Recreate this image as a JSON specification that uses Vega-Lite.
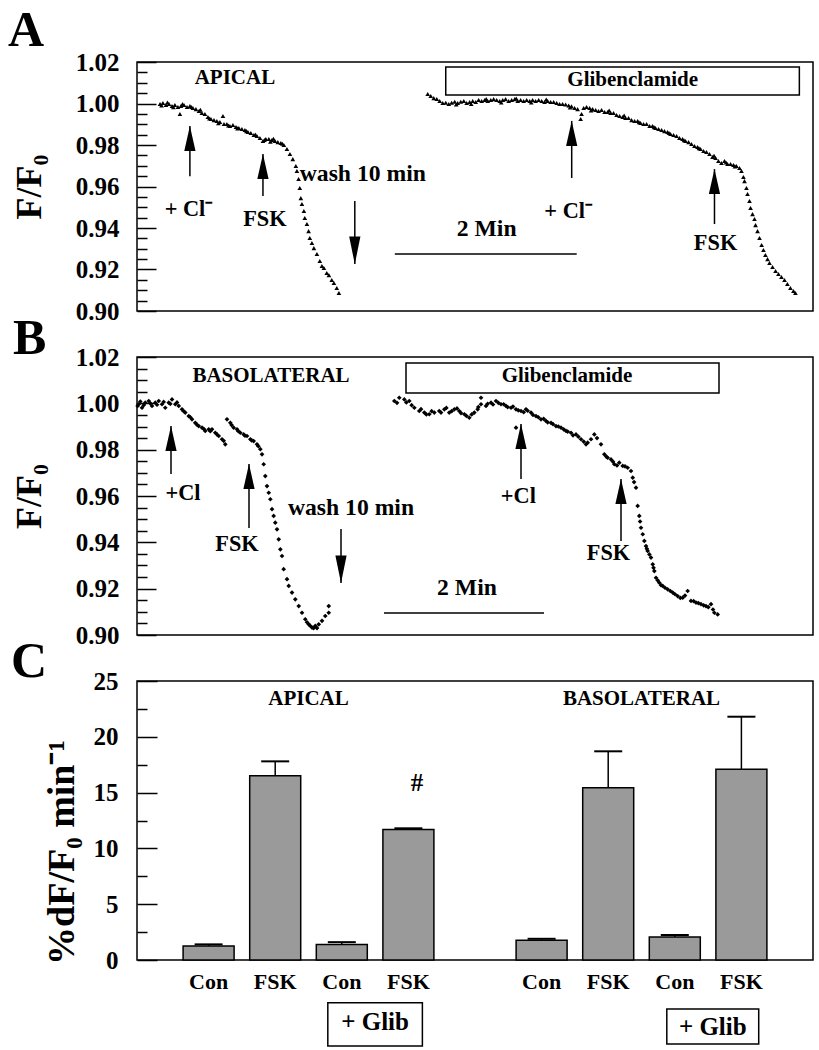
{
  "$schema": "https://vega.github.io/schema/vega-lite/v6.json",
  "padding": {"left": 7, "top": 5, "right": 5, "bottom": 5},
  "bounds": "flush",
  "spacing": 46,
  "config": {
    "font": "Liberation Serif",
    "view": {"stroke": "black", "strokeWidth": 1.5},
    "axis": {"labelFont": "Liberation Serif", "labelFontWeight": "bold", "labelColor": "black", "titleFont": "Liberation Serif", "titleFontWeight": "bold", "titleColor": "black", "domain": false, "grid": false, "tickColor": "black", "tickWidth": 1.5, "labelFlush": false, "labelOverlap": false, "labelBound": false},
    "title": {"font": "Liberation Serif", "fontWeight": "bold", "color": "black", "anchor": "start", "frame": "group"},
    "text": {"font": "Liberation Serif", "fontWeight": "bold", "color": "black"}
  },
  "datasets": {
    "traceA": [
      {"t":15.2,"f":0.9998},{"t":17.1,"f":1.0002},{"t":19.1,"f":0.9993},{"t":21.1,"f":0.9998},{"t":23.1,"f":0.9988},{"t":25.0,"f":0.9993},{"t":27.0,"f":0.9983},{"t":29.0,"f":0.9988},{"t":31.0,"f":0.9993},{"t":33.0,"f":0.9983},{"t":28.3,"f":0.9949},{"t":34.9,"f":0.9988},{"t":36.9,"f":0.9978},{"t":38.9,"f":0.9973},{"t":40.9,"f":0.9964},{"t":42.8,"f":0.9954},{"t":44.8,"f":0.9949},{"t":46.8,"f":0.9935},{"t":48.8,"f":0.9925},{"t":50.8,"f":0.9920},{"t":52.7,"f":0.9916},{"t":54.7,"f":0.9911},{"t":56.7,"f":0.9940},{"t":57.4,"f":0.9901},{"t":59.3,"f":0.9901},{"t":61.3,"f":0.9892},{"t":63.3,"f":0.9896},{"t":65.3,"f":0.9887},{"t":67.2,"f":0.9882},{"t":69.2,"f":0.9877},{"t":71.2,"f":0.9872},{"t":73.2,"f":0.9863},{"t":75.1,"f":0.9858},{"t":77.1,"f":0.9848},{"t":79.1,"f":0.9843},{"t":81.1,"f":0.9834},{"t":83.1,"f":0.9819},{"t":85.0,"f":0.9829},{"t":87.0,"f":0.9829},{"t":89.0,"f":0.9824},{"t":91.0,"f":0.9819},{"t":92.9,"f":0.9814},{"t":94.9,"f":0.9810},{"t":96.9,"f":0.9800},{"t":98.9,"f":0.9781},{"t":100.9,"f":0.9757},{"t":102.8,"f":0.9732},{"t":104.8,"f":0.9699},{"t":105.5,"f":0.9675},{"t":106.6,"f":0.9636},{"t":107.4,"f":0.9593},{"t":108.1,"f":0.9544},{"t":108.8,"f":0.9516},{"t":110.1,"f":0.9482},{"t":110.7,"f":0.9448},{"t":112.1,"f":0.9419},{"t":113.2,"f":0.9385},{"t":114.0,"f":0.9352},{"t":115.4,"f":0.9328},{"t":116.7,"f":0.9303},{"t":118.7,"f":0.9275},{"t":120.6,"f":0.9241},{"t":122.0,"f":0.9217},{"t":123.3,"f":0.9207},{"t":125.2,"f":0.9183},{"t":126.6,"f":0.9173},{"t":128.5,"f":0.9149},{"t":129.9,"f":0.9135},{"t":131.8,"f":0.9111},{"t":133.2,"f":0.9087},
      {"t":16.2,"f":0.9990},{"t":20.1,"f":1.0005},{"t":24.0,"f":0.9982},{"t":30.0,"f":0.9997},{"t":35.9,"f":0.9983},{"t":41.8,"f":0.9970},{"t":47.8,"f":0.9928},{"t":53.7,"f":0.9905},{"t":60.3,"f":0.9894},{"t":66.3,"f":0.9880},{"t":72.2,"f":0.9867},{"t":78.1,"f":0.9850},{"t":84.1,"f":0.9824},{"t":90.0,"f":0.9830},{"t":95.9,"f":0.9806},{"t":88.0,"f":0.9816},
      {"t":191.8,"f":1.0046},{"t":193.8,"f":1.0036},{"t":195.8,"f":1.0026},{"t":197.8,"f":1.0022},{"t":199.7,"f":1.0012},{"t":201.7,"f":1.0002},{"t":203.7,"f":1.0004},{"t":205.7,"f":0.9998},{"t":207.6,"f":1.0004},{"t":209.6,"f":1.0008},{"t":211.6,"f":1.0002},{"t":213.6,"f":1.0008},{"t":215.6,"f":1.0012},{"t":217.5,"f":1.0002},{"t":219.5,"f":1.0007},{"t":221.5,"f":1.0012},{"t":223.5,"f":1.0007},{"t":225.4,"f":1.0017},{"t":227.4,"f":1.0012},{"t":229.4,"f":1.0017},{"t":231.4,"f":1.0012},{"t":233.4,"f":1.0017},{"t":235.3,"f":1.0021},{"t":237.3,"f":1.0017},{"t":239.3,"f":1.0012},{"t":241.3,"f":1.0017},{"t":243.2,"f":1.0021},{"t":245.2,"f":1.0012},{"t":247.2,"f":1.0017},{"t":249.2,"f":1.0021},{"t":251.2,"f":1.0012},{"t":253.1,"f":1.0017},{"t":255.1,"f":1.0012},{"t":257.1,"f":1.0017},{"t":259.1,"f":1.0012},{"t":261.0,"f":1.0017},{"t":263.0,"f":1.0012},{"t":265.0,"f":1.0017},{"t":267.0,"f":1.0012},{"t":268.9,"f":1.0007},{"t":270.9,"f":1.0012},{"t":272.9,"f":1.0007},{"t":274.9,"f":1.0007},{"t":276.9,"f":1.0002},{"t":278.8,"f":0.9998},{"t":280.8,"f":0.9998},{"t":282.8,"f":0.9995},{"t":284.8,"f":0.9990},{"t":286.7,"f":0.9986},{"t":288.7,"f":0.9978},{"t":290.7,"f":0.9973},{"t":292.7,"f":0.9925},{"t":293.3,"f":0.9949},{"t":294.7,"f":0.9978},{"t":296.6,"f":0.9983},{"t":298.6,"f":0.9978},{"t":300.6,"f":0.9973},{"t":302.6,"f":0.9969},{"t":304.5,"f":0.9964},{"t":306.5,"f":0.9969},{"t":308.5,"f":0.9959},{"t":310.5,"f":0.9959},{"t":312.5,"f":0.9954},{"t":314.4,"f":0.9954},{"t":316.4,"f":0.9945},{"t":318.4,"f":0.9940},{"t":320.4,"f":0.9935},{"t":322.3,"f":0.9930},{"t":324.3,"f":0.9930},{"t":326.3,"f":0.9920},{"t":328.3,"f":0.9916},{"t":330.3,"f":0.9916},{"t":332.2,"f":0.9906},{"t":334.2,"f":0.9901},{"t":336.2,"f":0.9901},{"t":338.2,"f":0.9892},{"t":340.1,"f":0.9892},{"t":342.1,"f":0.9882},{"t":344.1,"f":0.9877},{"t":346.1,"f":0.9872},{"t":348.0,"f":0.9867},{"t":350.0,"f":0.9863},{"t":352.0,"f":0.9853},{"t":354.0,"f":0.9848},{"t":356.0,"f":0.9843},{"t":357.9,"f":0.9834},{"t":359.9,"f":0.9829},{"t":361.9,"f":0.9819},{"t":363.9,"f":0.9814},{"t":365.8,"f":0.9805},{"t":367.8,"f":0.9795},{"t":369.8,"f":0.9790},{"t":371.8,"f":0.9781},{"t":373.8,"f":0.9771},{"t":375.7,"f":0.9766},{"t":377.7,"f":0.9757},{"t":379.7,"f":0.9742},{"t":381.7,"f":0.9737},{"t":383.6,"f":0.9723},{"t":385.6,"f":0.9713},{"t":387.6,"f":0.9723},{"t":389.6,"f":0.9708},{"t":391.6,"f":0.9708},{"t":393.5,"f":0.9704},{"t":395.5,"f":0.9699},{"t":397.5,"f":0.9689},{"t":398.8,"f":0.9675},{"t":400.1,"f":0.9646},{"t":400.8,"f":0.9626},{"t":402.1,"f":0.9593},{"t":402.8,"f":0.9564},{"t":404.1,"f":0.9530},{"t":404.8,"f":0.9496},{"t":406.1,"f":0.9467},{"t":407.4,"f":0.9443},{"t":408.1,"f":0.9414},{"t":409.4,"f":0.9385},{"t":410.7,"f":0.9352},{"t":412.1,"f":0.9318},{"t":413.3,"f":0.9294},{"t":414.6,"f":0.9270},{"t":416.0,"f":0.9250},{"t":417.3,"f":0.9231},{"t":419.3,"f":0.9212},{"t":421.3,"f":0.9193},{"t":423.2,"f":0.9178},{"t":425.2,"f":0.9164},{"t":427.2,"f":0.9149},{"t":429.1,"f":0.9130},{"t":431.1,"f":0.9111},{"t":433.1,"f":0.9096},{"t":434.4,"f":0.9087},
      {"t":210.6,"f":0.9995},{"t":220.5,"f":0.9998},{"t":230.4,"f":1.0022},{"t":240.3,"f":1.0005},{"t":250.2,"f":1.0024},{"t":260.1,"f":1.0005},{"t":270.0,"f":1.0019},{"t":285.7,"f":0.9981},{"t":299.6,"f":0.9967},{"t":311.5,"f":0.9966},{"t":321.4,"f":0.9942},{"t":331.2,"f":0.9910},{"t":341.1,"f":0.9886},{"t":351.0,"f":0.9858},{"t":360.9,"f":0.9823},{"t":370.8,"f":0.9784},{"t":380.7,"f":0.9748},{"t":388.6,"f":0.9716},{"t":394.5,"f":0.9697}
    ],
    "traceB": [
      {"t":0.5,"f":0.9989},{"t":1.3,"f":0.9996},{"t":3.75,"f":0.9981},{"t":6.2,"f":1.0003},{"t":8.8,"f":1.0010},{"t":11.25,"f":0.9989},{"t":13.7,"f":1.0003},{"t":16.3,"f":1.0010},{"t":18.75,"f":0.9996},{"t":21.2,"f":0.9981},{"t":23.8,"f":1.0003},{"t":26.25,"f":1.0017},{"t":28.7,"f":0.9996},{"t":31.3,"f":0.9989},{"t":33.75,"f":0.9974},{"t":36.2,"f":0.9960},{"t":38.8,"f":0.9945},{"t":41.25,"f":0.9931},{"t":43.7,"f":0.9916},{"t":46.3,"f":0.9902},{"t":48.75,"f":0.9895},{"t":51.2,"f":0.9881},{"t":53.8,"f":0.9888},{"t":56.25,"f":0.9888},{"t":58.7,"f":0.9873},{"t":61.3,"f":0.9859},{"t":63.75,"f":0.9845},{"t":66.2,"f":0.9823},{"t":67.5,"f":0.9931},{"t":70.0,"f":0.9916},{"t":72.5,"f":0.9895},{"t":75.0,"f":0.9888},{"t":77.5,"f":0.9873},{"t":80.0,"f":0.9866},{"t":82.5,"f":0.9859},{"t":85.0,"f":0.9845},{"t":87.5,"f":0.9837},{"t":90.0,"f":0.9823},{"t":92.5,"f":0.9802},{"t":93.75,"f":0.9780},{"t":95.0,"f":0.9737},{"t":96.2,"f":0.9686},{"t":97.5,"f":0.9643},{"t":98.8,"f":0.9614},{"t":100.0,"f":0.9586},{"t":101.25,"f":0.9543},{"t":102.5,"f":0.9514},{"t":103.7,"f":0.9485},{"t":105.0,"f":0.9456},{"t":106.3,"f":0.9413},{"t":107.5,"f":0.9370},{"t":108.75,"f":0.9341},{"t":110.0,"f":0.9284},{"t":112.5,"f":0.9241},{"t":113.8,"f":0.9212},{"t":116.25,"f":0.9183},{"t":118.7,"f":0.9154},{"t":121.3,"f":0.9125},{"t":123.75,"f":0.9096},{"t":126.2,"f":0.9068},{"t":128.8,"f":0.9046},{"t":131.25,"f":0.9032},{"t":133.7,"f":0.9039},{"t":136.3,"f":0.9046},{"t":138.75,"f":0.9061},{"t":141.2,"f":0.9082},{"t":143.8,"f":0.9125},{"t":143.8,"f":0.9096},
      {"t":2.5,"f":1.0008},{"t":5,"f":0.9992},{"t":10,"f":1.0000},{"t":15,"f":0.9994},{"t":20,"f":1.0006},{"t":25,"f":0.9998},{"t":30,"f":1.0004},{"t":35,"f":0.9966},{"t":40,"f":0.9940},{"t":45,"f":0.9908},{"t":50,"f":0.9890},{"t":55,"f":0.9880},{"t":60,"f":0.9866},{"t":65,"f":0.9838},{"t":71,"f":0.9906},{"t":76,"f":0.9880},{"t":81,"f":0.9860},{"t":86,"f":0.9840},{"t":91,"f":0.9815},{"t":129.9,"f":0.9040},{"t":135,"f":0.9030},{"t":127.5,"f":0.9055},{"t":132.5,"f":0.9030},
      {"t":193.0,"f":1.0010},{"t":196.7,"f":1.0024},{"t":200.5,"f":1.0017},{"t":204.2,"f":1.0010},{"t":208.0,"f":0.9981},{"t":211.7,"f":0.9967},{"t":215.5,"f":0.9960},{"t":219.2,"f":0.9953},{"t":223.0,"f":0.9960},{"t":226.7,"f":0.9967},{"t":230.5,"f":0.9974},{"t":234.2,"f":0.9960},{"t":238.0,"f":0.9974},{"t":241.7,"f":0.9967},{"t":245.5,"f":0.9953},{"t":249.2,"f":0.9938},{"t":253.0,"f":0.9960},{"t":255.5,"f":0.9974},{"t":258.0,"f":0.9996},{"t":258.0,"f":1.0024},{"t":261.75,"f":0.9989},{"t":265.5,"f":1.0003},{"t":269.25,"f":1.0010},{"t":273.0,"f":0.9996},{"t":276.75,"f":0.9989},{"t":280.5,"f":0.9981},{"t":284.25,"f":0.9974},{"t":284.25,"f":0.9895},{"t":288.0,"f":0.9967},{"t":291.75,"f":0.9974},{"t":295.5,"f":0.9960},{"t":299.25,"f":0.9945},{"t":303.0,"f":0.9931},{"t":306.75,"f":0.9924},{"t":310.5,"f":0.9916},{"t":314.25,"f":0.9902},{"t":318.0,"f":0.9895},{"t":321.75,"f":0.9881},{"t":325.5,"f":0.9873},{"t":329.25,"f":0.9866},{"t":333.0,"f":0.9845},{"t":336.75,"f":0.9823},{"t":340.5,"f":0.9845},{"t":343.0,"f":0.9866},{"t":348.0,"f":0.9823},{"t":350.5,"f":0.9780},{"t":353.0,"f":0.9765},{"t":355.5,"f":0.9758},{"t":358.0,"f":0.9737},{"t":361.7,"f":0.9744},{"t":364.3,"f":0.9730},{"t":368.0,"f":0.9722},{"t":370.5,"f":0.9708},{"t":371.8,"f":0.9679},{"t":374.25,"f":0.9636},{"t":375.5,"f":0.9557},{"t":376.7,"f":0.9514},{"t":378.0,"f":0.9463},{"t":379.3,"f":0.9435},{"t":380.5,"f":0.9406},{"t":381.75,"f":0.9384},{"t":383.0,"f":0.9363},{"t":385.5,"f":0.9334},{"t":386.8,"f":0.9305},{"t":388.0,"f":0.9276},{"t":389.25,"f":0.9247},{"t":391.7,"f":0.9226},{"t":394.3,"f":0.9212},{"t":398.0,"f":0.9197},{"t":401.8,"f":0.9183},{"t":405.5,"f":0.9168},{"t":409.3,"f":0.9161},{"t":413.0,"f":0.9190},{"t":415.5,"f":0.9147},{"t":419.25,"f":0.9140},{"t":423.0,"f":0.9133},{"t":426.75,"f":0.9125},{"t":430.5,"f":0.9133},{"t":433.0,"f":0.9096},{"t":435.5,"f":0.9089},
      {"t":195,"f":1.0002},{"t":202,"f":1.0004},{"t":206,"f":0.9992},{"t":213,"f":0.9975},{"t":217,"f":0.9952},{"t":221,"f":0.9966},{"t":228,"f":0.9960},{"t":232,"f":0.9980},{"t":236,"f":0.9966},{"t":240,"f":0.9978},{"t":243,"f":0.9958},{"t":247,"f":0.9946},{"t":251,"f":0.9952},{"t":256,"f":0.9984},{"t":263,"f":0.9998},{"t":267,"f":0.9995},{"t":271,"f":1.0002},{"t":275,"f":0.9996},{"t":278,"f":0.9984},{"t":282,"f":0.9986},{"t":286,"f":0.9970},{"t":290,"f":0.9962},{"t":293,"f":0.9968},{"t":297,"f":0.9950},{"t":301,"f":0.9940},{"t":305,"f":0.9933},{"t":308,"f":0.9918},{"t":312,"f":0.9910},{"t":316,"f":0.9900},{"t":320,"f":0.9888},{"t":323,"f":0.9878},{"t":327,"f":0.9862},{"t":331,"f":0.9856},{"t":335,"f":0.9835},{"t":338,"f":0.9830},{"t":345,"f":0.9850},{"t":352,"f":0.9770},{"t":357,"f":0.9748},{"t":360,"f":0.9732},{"t":366,"f":0.9728},{"t":372.8,"f":0.9660},{"t":377.3,"f":0.9490},{"t":382.4,"f":0.9372},{"t":384.3,"f":0.9348},{"t":387.4,"f":0.9290},{"t":390.5,"f":0.9236},{"t":393,"f":0.9215},{"t":396,"f":0.9204},{"t":400,"f":0.9190},{"t":403.5,"f":0.9176},{"t":407.5,"f":0.9160},{"t":411,"f":0.9170},{"t":417.5,"f":0.9146},{"t":421,"f":0.9138},{"t":425,"f":0.9128},{"t":428.5,"f":0.9120},{"t":432,"f":0.9110}
    ],
    "notesA": [
      {"t":64.6,"f":1.0123,"text":"APICAL","kind":"label"},
      {"t":327,"f":1.0111,"text":"Glibenclamide","kind":"label"},
      {"t":34.3,"f":0.9491,"text":"+ Cl⁻","kind":"event"},
      {"t":84.4,"f":0.9443,"text":"FSK","kind":"event"},
      {"t":149,"f":0.966,"text":"wash 10 min","kind":"note"},
      {"t":230.7,"f":0.9395,"text":"2 Min","kind":"note"},
      {"t":284.8,"f":0.9482,"text":"+ Cl⁻","kind":"event"},
      {"t":381.7,"f":0.9328,"text":"FSK","kind":"event"}
    ],
    "notesB": [
      {"t":100.5,"f":1.0118,"text":"BASOLATERAL","kind":"label"},
      {"t":322.5,"f":1.0118,"text":"Glibenclamide","kind":"label"},
      {"t":34.5,"f":0.9613,"text":"+Cl","kind":"event"},
      {"t":75,"f":0.9393,"text":"FSK","kind":"event"},
      {"t":160.5,"f":0.9548,"text":"wash 10 min","kind":"note"},
      {"t":247.5,"f":0.9203,"text":"2 Min","kind":"note"},
      {"t":286,"f":0.96,"text":"+Cl","kind":"event"},
      {"t":353.6,"f":0.9354,"text":"FSK","kind":"event"}
    ],
    "arrowsA": [
      {"t":34.9,"f":0.9650,"f2":0.9891,"dir":"up"},
      {"t":83.1,"f":0.9554,"f2":0.9757,"dir":"up"},
      {"t":143.7,"f":0.9530,"f2":0.9226,"dir":"down"},
      {"t":286.8,"f":0.9641,"f2":0.9916,"dir":"up"},
      {"t":381.0,"f":0.9419,"f2":0.9684,"dir":"up"}
    ],
    "arrowsB": [
      {"t":25.5,"f":0.9695,"f2":0.9902,"dir":"up"},
      {"t":84,"f":0.9462,"f2":0.9738,"dir":"up"},
      {"t":153,"f":0.9458,"f2":0.9225,"dir":"down"},
      {"t":288,"f":0.9673,"f2":0.9911,"dir":"up"},
      {"t":363,"f":0.9406,"f2":0.9673,"dir":"up"}
    ],
    "scaleA": [{"t":170.1,"t2":290.1,"f":0.9275}],
    "scaleB": [{"t":185.25,"t2":305.25,"f":0.9095}],
    "glibA": [{"t":203.7,"t2":437.0,"f":1.0041,"f2":1.0176}],
    "glibB": [{"t":201.75,"t2":436.5,"f":1.0045,"f2":1.0174}],
    "barsC": [
      {"slot":1,"side":"APICAL","glib":false,"treatment":"Con","v":1.25,"hi":1.4},
      {"slot":2,"side":"APICAL","glib":false,"treatment":"FSK","v":16.5,"hi":17.8},
      {"slot":3,"side":"APICAL","glib":true,"treatment":"Con","v":1.4,"hi":1.6},
      {"slot":4,"side":"APICAL","glib":true,"treatment":"FSK","v":11.7,"hi":11.8},
      {"slot":6,"side":"BASOLATERAL","glib":false,"treatment":"Con","v":1.76,"hi":1.9},
      {"slot":7,"side":"BASOLATERAL","glib":false,"treatment":"FSK","v":15.44,"hi":18.7},
      {"slot":8,"side":"BASOLATERAL","glib":true,"treatment":"Con","v":2.06,"hi":2.24},
      {"slot":9,"side":"BASOLATERAL","glib":true,"treatment":"FSK","v":17.1,"hi":21.8}
    ],
    "notesC": [
      {"slot":2.5,"v":23.4,"text":"APICAL","kind":"label"},
      {"slot":7.5,"v":23.4,"text":"BASOLATERAL","kind":"label"},
      {"slot":4.13,"v":15.9,"text":"#","kind":"mark"},
      {"slot":3.5,"v":-5.6,"text":"+ Glib","kind":"mark"},
      {"slot":8.57,"v":-6.0,"text":"+ Glib","kind":"mark"}
    ],
    "boxesC": [
      {"slot":2.79,"slot2":4.21,"v":-3.83,"v2":-7.7},
      {"slot":7.88,"slot2":9.26,"v":-4.39,"v2":-7.53}
    ]
  },
  "vconcat": [
    {
      "width": 676,
      "height": 249,
      "title": {"text": "A", "fontSize": 50, "dx": -129, "offset": -6},
      "resolve": {"axis": {"y": "independent"}},
      "encoding": {
        "x": {"field": "t", "type": "quantitative", "scale": {"domain": [0, 446], "nice": false, "zero": false}, "axis": null},
        "y": {"field": "f", "type": "quantitative", "scale": {"domain": [0.9, 1.02], "nice": false, "zero": false}, "axis": null}
      },
      "layer": [
        {"data": {"name": "traceA"}, "mark": {"type": "point", "shape": "triangle-up", "filled": true, "size": 22, "color": "black", "opacity": 1},
          "encoding": {"y": {"field": "f", "type": "quantitative", "scale": {"domain": [0.9, 1.02], "nice": false, "zero": false},
            "axis": {"orient": "left", "values": [0.9,0.92,0.94,0.96,0.98,1.0,1.02], "format": ".2f", "tickSize": -19, "labelPadding": 37, "labelFontSize": 25, "title": "F/F₀", "titleFontSize": 36, "titlePadding": 27}}}},
        {"data": {"name": "glibA"}, "mark": {"type": "rect", "fillOpacity": 0, "stroke": "black", "strokeWidth": 1.5},
          "encoding": {"x2": {"field": "t2"}, "y2": {"field": "f2"},
            "y": {"field": "f", "type": "quantitative", "scale": {"domain": [0.9, 1.02], "nice": false, "zero": false},
              "axis": {"orient": "left", "values": [0.905,0.91,0.915,0.925,0.93,0.935,0.945,0.95,0.955,0.965,0.97,0.975,0.985,0.99,0.995,1.005,1.01,1.015], "tickSize": -10, "labels": false, "title": null}}}},
        {"data": {"name": "scaleA"}, "mark": {"type": "rule", "strokeWidth": 1.5, "color": "black"}, "encoding": {"x2": {"field": "t2"}}},
        {"data": {"name": "arrowsA"}, "mark": {"type": "rule", "strokeWidth": 1.5, "color": "black"}, "encoding": {"y2": {"field": "f2"}}},
        {"data": {"name": "arrowsA"}, "mark": {"type": "point", "filled": true, "opacity": 1, "color": "black", "size": 625},
          "encoding": {"y": {"field": "f2", "type": "quantitative", "scale": {"domain": [0.9, 1.02], "nice": false, "zero": false}, "axis": null},
            "shape": {"field": "dir", "type": "nominal", "scale": {"domain": ["up", "down"], "range": ["M0,0L0.45,2L-0.45,2Z", "M0,0L0.45,-2.2L-0.45,-2.2Z"]}, "legend": null}}},
        {"data": {"name": "notesA"}, "mark": {"type": "text", "align": "center", "baseline": "middle"},
          "encoding": {"text": {"field": "text"}, "size": {"field": "kind", "type": "nominal", "scale": {"domain": ["label", "event", "note"], "range": [21, 25, 19]}, "legend": null}}}
      ]
    },
    {
      "width": 676,
      "height": 278,
      "title": {"text": "B", "fontSize": 50, "dx": -124, "offset": -19},
      "resolve": {"axis": {"y": "independent"}},
      "encoding": {
        "x": {"field": "t", "type": "quantitative", "scale": {"domain": [0, 507], "nice": false, "zero": false}, "axis": null},
        "y": {"field": "f", "type": "quantitative", "scale": {"domain": [0.9, 1.02], "nice": false, "zero": false}, "axis": null}
      },
      "layer": [
        {"data": {"name": "traceB"}, "mark": {"type": "point", "shape": "diamond", "filled": true, "size": 22, "color": "black", "opacity": 1},
          "encoding": {"y": {"field": "f", "type": "quantitative", "scale": {"domain": [0.9, 1.02], "nice": false, "zero": false},
            "axis": {"orient": "left", "values": [0.9,0.92,0.94,0.96,0.98,1.0,1.02], "format": ".2f", "tickSize": -19, "labelPadding": 37, "labelFontSize": 25, "title": "F/F₀", "titleFontSize": 36, "titlePadding": 27}}}},
        {"data": {"name": "glibB"}, "mark": {"type": "rect", "fillOpacity": 0, "stroke": "black", "strokeWidth": 1.5},
          "encoding": {"x2": {"field": "t2"}, "y2": {"field": "f2"},
            "y": {"field": "f", "type": "quantitative", "scale": {"domain": [0.9, 1.02], "nice": false, "zero": false},
              "axis": {"orient": "left", "values": [0.905,0.91,0.915,0.925,0.93,0.935,0.945,0.95,0.955,0.965,0.97,0.975,0.985,0.99,0.995,1.005,1.01,1.015], "tickSize": -10, "labels": false, "title": null}}}},
        {"data": {"name": "scaleB"}, "mark": {"type": "rule", "strokeWidth": 1.5, "color": "black"}, "encoding": {"x2": {"field": "t2"}}},
        {"data": {"name": "arrowsB"}, "mark": {"type": "rule", "strokeWidth": 1.5, "color": "black"}, "encoding": {"y2": {"field": "f2"}}},
        {"data": {"name": "arrowsB"}, "mark": {"type": "point", "filled": true, "opacity": 1, "color": "black", "size": 625},
          "encoding": {"y": {"field": "f2", "type": "quantitative", "scale": {"domain": [0.9, 1.02], "nice": false, "zero": false}, "axis": null},
            "shape": {"field": "dir", "type": "nominal", "scale": {"domain": ["up", "down"], "range": ["M0,0L0.5,2L-0.5,2Z", "M0,0L0.45,-2.2L-0.45,-2.2Z"]}, "legend": null}}},
        {"data": {"name": "notesB"}, "mark": {"type": "text", "align": "center", "baseline": "middle"},
          "encoding": {"text": {"field": "text"}, "size": {"field": "kind", "type": "nominal", "scale": {"domain": ["label", "event", "note"], "range": [21, 25, 19]}, "legend": null}}}
      ]
    },
    {
      "width": 676,
      "height": 279,
      "title": {"text": "C", "fontSize": 50, "dx": -126, "offset": -18},
      "resolve": {"axis": {"y": "independent"}},
      "encoding": {
        "x": {"field": "slot", "type": "quantitative", "scale": {"domain": [0, 10], "nice": false, "zero": false}, "axis": null},
        "y": {"field": "v", "type": "quantitative", "scale": {"domain": [0, 25], "nice": false, "zero": false}, "axis": null}
      },
      "layer": [
        {"data": {"name": "barsC"}, "mark": {"type": "bar", "orient": "vertical", "width": 51, "fill": "#9a9a9a", "stroke": "black", "strokeWidth": 1.5},
          "encoding": {"y": {"field": "v", "type": "quantitative", "scale": {"domain": [0, 25], "nice": false, "zero": false},
            "axis": {"orient": "left", "values": [0,5,10,15,20,25], "tickSize": -20, "labelPadding": 39, "labelFontSize": 25, "title": "%dF/F₀ min⁻¹", "titleFontSize": 38, "titlePadding": 12, "titleY": 171}}}},
        {"data": {"name": "barsC"}, "mark": {"type": "rule", "strokeWidth": 1.5, "color": "black"},
          "encoding": {"y2": {"field": "hi"},
            "y": {"field": "v", "type": "quantitative", "scale": {"domain": [0, 25], "nice": false, "zero": false},
              "axis": {"orient": "left", "values": [2.5,7.5,12.5,17.5,22.5], "tickSize": -10, "labels": false, "title": null}}}},
        {"data": {"name": "barsC"}, "mark": {"type": "tick", "orient": "horizontal", "size": 28, "thickness": 2, "color": "black", "opacity": 1},
          "encoding": {"y": {"field": "hi", "type": "quantitative", "scale": {"domain": [0, 25], "nice": false, "zero": false}, "axis": null}}},
        {"data": {"name": "barsC"}, "mark": {"type": "text", "align": "center", "baseline": "top", "dy": 12, "fontSize": 22},
          "encoding": {"y": {"datum": 0, "type": "quantitative", "scale": {"domain": [0, 25], "nice": false, "zero": false}, "axis": null}, "text": {"field": "treatment"}}},
        {"data": {"name": "boxesC"}, "mark": {"type": "rect", "fillOpacity": 0, "stroke": "black", "strokeWidth": 1.5}, "encoding": {"x2": {"field": "slot2"}, "y2": {"field": "v2"}}},
        {"data": {"name": "notesC"}, "mark": {"type": "text", "align": "center", "baseline": "middle"},
          "encoding": {"text": {"field": "text"}, "size": {"field": "kind", "type": "nominal", "scale": {"domain": ["label", "mark"], "range": [20, 22]}, "legend": null}}}
      ]
    }
  ]
}
